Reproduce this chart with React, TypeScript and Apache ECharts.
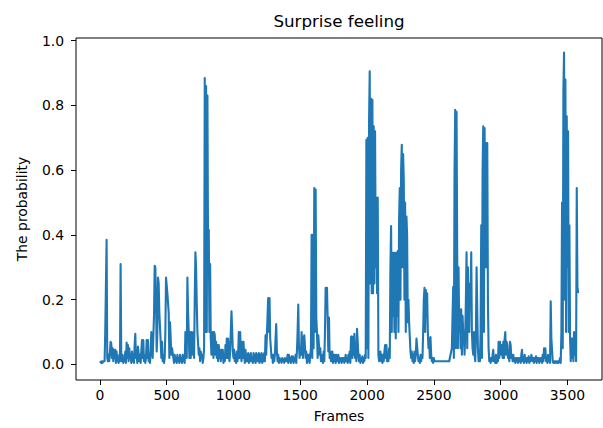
import React, { useEffect, useRef } from "react";
import * as echarts from "echarts";

// Frame spacing of the sampled series (frames 0, 5, 10, ...)
const frameStep = 5;

// Probability values, one row per 100 frames
const probability: number[] = [
  // 0-95
  0.01, 0.01, 0.005, 0.01, 0.005, 0.01, 0.01, 0.01, 0.1, 0.1, 0.385, 0.02, 0.01, 0.03, 0.01, 0.04, 0.07, 0.065, 0.02, 0.05,
  // 100-195
  0.01, 0.045, 0.02, 0.045, 0.005, 0.04, 0.01, 0.02, 0.005, 0.03, 0.01, 0.31, 0.02, 0.01, 0.03, 0.005, 0.02, 0.01, 0.04, 0.005,
  // 200-295
  0.068, 0.02, 0.06, 0.01, 0.05, 0.02, 0.03, 0.005, 0.04, 0.01, 0.02, 0.005, 0.06, 0.095, 0.02, 0.03, 0.005, 0.055, 0.055, 0.01,
  // 300-395
  0.03, 0.005, 0.04, 0.075, 0.02, 0.075, 0.01, 0.03, 0.005, 0.02, 0.075, 0.02, 0.075, 0.01, 0.03, 0.005, 0.04, 0.1, 0.1, 0.02,
  // 400-495
  0.02, 0.15, 0.305, 0.3, 0.2, 0.04, 0.1, 0.268, 0.25, 0.16, 0.16, 0.07, 0.02, 0.07, 0.01, 0.03, 0.005, 0.02, 0.1, 0.268,
  // 500-595
  0.268, 0.22, 0.22, 0.16, 0.02, 0.13, 0.13, 0.03, 0.05, 0.05, 0.02, 0.005, 0.03, 0.01, 0.02, 0.005, 0.03, 0.01, 0.02, 0.005,
  // 600-695
  0.03, 0.01, 0.02, 0.005, 0.03, 0.01, 0.02, 0.005, 0.1, 0.05, 0.02, 0.268, 0.165, 0.1, 0.02, 0.1, 0.02, 0.1, 0.1, 0.03,
  // 700-795
  0.1, 0.02, 0.2, 0.346, 0.3, 0.19, 0.1, 0.1, 0.03, 0.05, 0.01, 0.04, 0.02, 0.03, 0.005, 0.02, 0.05, 0.884, 0.1, 0.86,
  // 800-895
  0.1, 0.83, 0.3, 0.416, 0.1, 0.31, 0.08, 0.03, 0.06, 0.1, 0.02, 0.1, 0.09, 0.03, 0.07, 0.02, 0.06, 0.01, 0.06, 0.02,
  // 900-995
  0.045, 0.01, 0.045, 0.02, 0.045, 0.005, 0.03, 0.01, 0.06, 0.02, 0.08, 0.02, 0.08, 0.03, 0.01, 0.04, 0.1, 0.164, 0.11, 0.04,
  // 1000-1095
  0.02, 0.045, 0.01, 0.03, 0.005, 0.04, 0.01, 0.03, 0.1, 0.02, 0.1, 0.04, 0.01, 0.07, 0.02, 0.07, 0.03, 0.005, 0.045, 0.01,
  // 1100-1195
  0.03, 0.01, 0.035, 0.005, 0.03, 0.01, 0.035, 0.01, 0.02, 0.005, 0.035, 0.01, 0.03, 0.005, 0.035, 0.01, 0.03, 0.01, 0.035, 0.005,
  // 1200-1295
  0.03, 0.01, 0.035, 0.005, 0.03, 0.01, 0.035, 0.01, 0.09, 0.03, 0.09, 0.15, 0.205, 0.1, 0.205, 0.08, 0.08, 0.02, 0.03, 0.005,
  // 1300-1395
  0.03, 0.01, 0.03, 0.08, 0.125, 0.04, 0.01, 0.03, 0.005, 0.02, 0.01, 0.015, 0.005, 0.02, 0.01, 0.015, 0.005, 0.02, 0.01, 0.015,
  // 1400-1495
  0.01, 0.03, 0.005, 0.03, 0.01, 0.02, 0.005, 0.025, 0.01, 0.025, 0.005, 0.02, 0.01, 0.03, 0.005, 0.04, 0.1, 0.185, 0.06, 0.02,
  // 1500-1595
  0.05, 0.03, 0.1, 0.1, 0.02, 0.08, 0.09, 0.09, 0.02, 0.04, 0.005, 0.03, 0.01, 0.03, 0.005, 0.03, 0.05, 0.4, 0.02, 0.4,
  // 1600-1695
  0.05, 0.545, 0.1, 0.54, 0.145, 0.1, 0.02, 0.09, 0.09, 0.03, 0.05, 0.01, 0.03, 0.02, 0.005, 0.04, 0.01, 0.1, 0.237, 0.2,
  // 1700-1795
  0.237, 0.145, 0.04, 0.145, 0.02, 0.04, 0.01, 0.03, 0.04, 0.005, 0.03, 0.01, 0.03, 0.005, 0.03, 0.01, 0.02, 0.03, 0.005, 0.02,
  // 1800-1895
  0.01, 0.02, 0.005, 0.02, 0.01, 0.02, 0.005, 0.015, 0.03, 0.01, 0.02, 0.005, 0.03, 0.01, 0.04, 0.005, 0.085, 0.087, 0.02, 0.085,
  // 1900-1995
  0.03, 0.095, 0.02, 0.06, 0.01, 0.11, 0.11, 0.03, 0.01, 0.03, 0.005, 0.02, 0.01, 0.025, 0.005, 0.02, 0.01, 0.03, 0.02, 0.694,
  // 2000-2095
  0.05, 0.7, 0.02, 0.75, 0.905, 0.25, 0.82, 0.22, 0.817, 0.22, 0.735, 0.25, 0.72, 0.3, 0.515, 0.22, 0.515, 0.03, 0.01, 0.02,
  // 2100-2195
  0.04, 0.01, 0.03, 0.005, 0.03, 0.01, 0.04, 0.06, 0.02, 0.06, 0.01, 0.03, 0.01, 0.05, 0.02, 0.3, 0.427, 0.1, 0.345, 0.15,
  // 2200-2295
  0.345, 0.1, 0.345, 0.08, 0.345, 0.15, 0.35, 0.1, 0.45, 0.545, 0.2, 0.6, 0.678, 0.3, 0.65, 0.57, 0.2, 0.5, 0.1, 0.457,
  // 2300-2395
  0.4, 0.13, 0.2, 0.13, 0.13, 0.04, 0.02, 0.04, 0.01, 0.03, 0.005, 0.04, 0.01, 0.03, 0.08, 0.08, 0.03, 0.01, 0.02, 0.005,
  // 2400-2495
  0.03, 0.01, 0.03, 0.02, 0.1, 0.2, 0.237, 0.1, 0.23, 0.15, 0.22, 0.1, 0.05, 0.08, 0.02, 0.085, 0.03, 0.01, 0.02, 0.005,
  // 2500-2595
  0.02, 0.01, 0.01, 0.01, 0.01, 0.01, 0.01, 0.01, 0.01, 0.01, 0.01, 0.01, 0.01, 0.01, 0.01, 0.01, 0.01, 0.01, 0.01, 0.01,
  // 2600-2695
  0.01, 0.01, 0.01, 0.01, 0.01, 0.03, 0.03, 0.05, 0.15, 0.24, 0.02, 0.6, 0.786, 0.05, 0.78, 0.345, 0.05, 0.3, 0.1, 0.17,
  // 2700-2795
  0.05, 0.17, 0.03, 0.15, 0.1, 0.09, 0.03, 0.09, 0.2, 0.346, 0.05, 0.3, 0.17, 0.1, 0.25, 0.2, 0.346, 0.1, 0.05, 0.03,
  // 2800-2895
  0.1, 0.03, 0.01, 0.1, 0.3, 0.3, 0.05, 0.01, 0.03, 0.01, 0.1, 0.43, 0.02, 0.6, 0.735, 0.1, 0.73, 0.3, 0.684, 0.3,
  // 2900-2995
  0.684, 0.19, 0.05, 0.01, 0.02, 0.005, 0.02, 0.01, 0.03, 0.045, 0.01, 0.02, 0.005, 0.03, 0.005, 0.02, 0.01, 0.07, 0.02, 0.07,
  // 3000-3095
  0.07, 0.03, 0.06, 0.02, 0.07, 0.02, 0.08, 0.1, 0.03, 0.07, 0.06, 0.02, 0.04, 0.01, 0.07, 0.06, 0.02, 0.03, 0.01, 0.03,
  // 3100-3195
  0.01, 0.02, 0.005, 0.02, 0.01, 0.02, 0.005, 0.02, 0.01, 0.02, 0.005, 0.03, 0.045, 0.01, 0.02, 0.005, 0.03, 0.01, 0.02, 0.005,
  // 3200-3295
  0.02, 0.01, 0.025, 0.005, 0.02, 0.01, 0.03, 0.03, 0.01, 0.02, 0.005, 0.02, 0.01, 0.025, 0.005, 0.02, 0.01, 0.02, 0.005, 0.02,
  // 3300-3395
  0.01, 0.02, 0.005, 0.03, 0.01, 0.05, 0.02, 0.05, 0.01, 0.02, 0.005, 0.03, 0.01, 0.02, 0.005, 0.195, 0.08, 0.08, 0.01, 0.005,
  // 3400-3495
  0.01, 0.005, 0.01, 0.005, 0.01, 0.005, 0.01, 0.005, 0.01, 0.02, 0.005, 0.1, 0.5, 0.05, 0.85, 0.963, 0.2, 0.88, 0.1, 0.766,
  // 3500-3580
  0.3, 0.72, 0.1, 0.43, 0.08, 0.01, 0.08, 0.02, 0.08, 0.01, 0.1, 0.03, 0.09, 0.01, 0.545, 0.24, 0.22,
];

const xTickValues = [0, 500, 1000, 1500, 2000, 2500, 3000, 3500];
const yTickValues = [0, 0.2, 0.4, 0.6, 0.8, 1.0];

const titleText = "Surprise feeling";
const xLabel = "Frames";
const yLabel = "The probability";

const FONT = "DejaVu Sans";

export default function App() {
  const ref = useRef<HTMLDivElement>(null);

  useEffect(() => {
    if (!ref.current) return;
    const chart = echarts.init(ref.current, undefined, { renderer: "svg" });
    const data = probability.map((v, i) => [i * frameStep, v]);
    const axisCommon = {
      axisLine: { show: false, onZero: false },
      splitLine: { show: false },
    };
    chart.setOption({
      animation: false,
      backgroundColor: "#ffffff",
      grid: {
        left: 76,
        right: 1,
        top: 38,
        bottom: 45,
        show: true,
        borderColor: "#000000",
        borderWidth: 1,
        backgroundColor: "transparent",
      },
      graphic: [
        {
          type: "text",
          x: 339,
          y: 21,
          style: {
            text: titleText,
            fill: "#000000",
            font: `16.7px "${FONT}"`,
            textAlign: "center",
            textVerticalAlign: "middle",
          },
        },
      ],
      xAxis: {
        type: "value",
        min: -179,
        max: 3759,
        ...axisCommon,
        axisTick: {
          show: true,
          customValues: xTickValues,
          length: 5,
          lineStyle: { color: "#000000", width: 1 },
        },
        axisLabel: {
          customValues: xTickValues,
          color: "#000000",
          fontFamily: FONT,
          fontSize: 13.9,
          margin: 8,
          formatter: (v: number) => String(v),
        },
        name: xLabel,
        nameLocation: "middle",
        nameGap: 29,
        nameTextStyle: { color: "#000000", fontFamily: FONT, fontSize: 13.9 },
      },
      yAxis: {
        type: "value",
        min: -0.048,
        max: 1.008,
        ...axisCommon,
        axisTick: {
          show: true,
          customValues: yTickValues,
          length: 5,
          lineStyle: { color: "#000000", width: 1 },
        },
        axisLabel: {
          customValues: yTickValues,
          color: "#000000",
          fontFamily: FONT,
          fontSize: 13.9,
          margin: 12,
          formatter: (v: number) => v.toFixed(1),
        },
        name: yLabel,
        nameLocation: "middle",
        nameRotate: 90,
        nameGap: 47,
        nameTextStyle: { color: "#000000", fontFamily: FONT, fontSize: 13.9 },
      },
      series: [
        {
          type: "line",
          data,
          showSymbol: false,
          symbol: "none",
          clip: true,
          lineStyle: { color: "#1f77b4", width: 2.1, join: "round" },
          emphasis: { disabled: true },
        },
      ],
    });
    return () => chart.dispose();
  }, []);

  return (
    <div
      ref={ref}
      style={{ position: "fixed", left: 0, top: 0, width: 603, height: 428, background: "#fff" }}
    />
  );
}
